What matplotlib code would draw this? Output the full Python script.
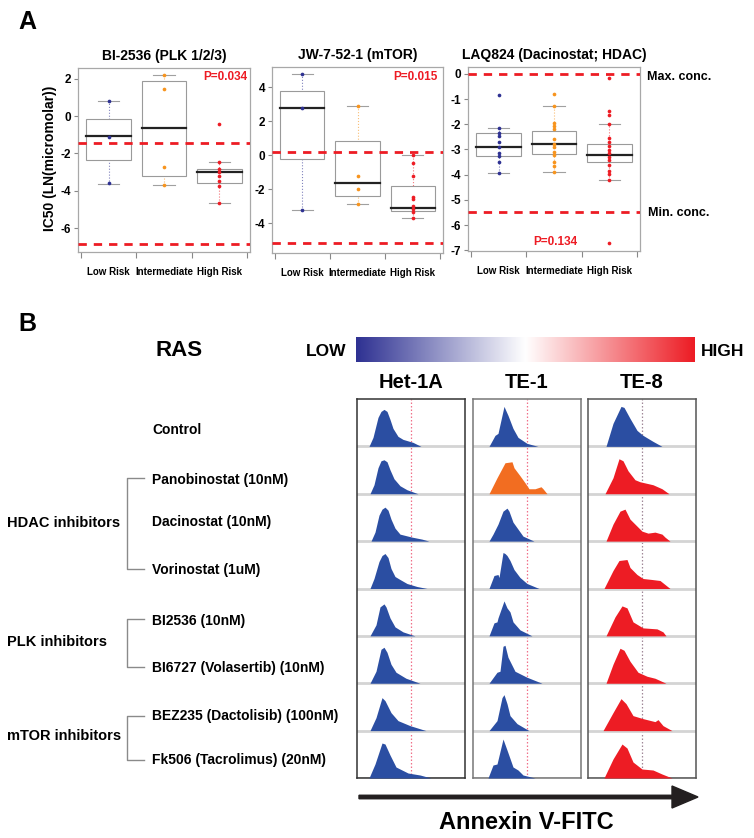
import numpy as np
import matplotlib.pyplot as plt
from matplotlib.colors import LinearSegmentedColormap
from matplotlib.patches import Rectangle, FancyArrow

plt.rcParams['font.family'] = ['Liberation Sans', 'DejaVu Sans']
plt.rcParams['font.weight'] = 'bold'

#%% Panel A data (IC50, LN micromolar)
risk_groups = ['Low Risk', 'Intermediate', 'High Risk']
risk_colors = ['#2e3192', '#f7941d', '#ed1c24']

plk_low = [0.8, -1.1, -3.6]
plk_int = [2.2, 1.45, -2.75, -3.7]
plk_high = [-0.45, -2.45, -2.85, -3.0, -3.2, -3.45, -3.75, -4.65]
# q1, median, q3, lower whisker, upper whisker
plk_box = [(-2.37, -1.08, -0.15, -3.62, 0.83),
           (-3.2, -0.63, 1.85, -3.7, 2.2),
           (-3.6, -2.98, -2.85, -4.67, -2.45)]
plk_ref = [-1.43, -6.83]

mtor_low = [4.75, 2.75, -3.25]
mtor_int = [2.9, -1.25, -2.0, -2.85]
mtor_high = [0.0, -0.45, -1.25, -2.45, -2.6, -3.0, -3.2, -3.35, -3.7]
mtor_box = [(-0.25, 2.78, 3.78, -3.25, 4.75),
            (-2.4, -1.62, 0.8, -2.85, 2.9),
            (-3.3, -3.1, -1.81, -3.7, 0.0)]
mtor_ref = [0.18, -5.18]

hdac_low = [-0.85, -2.15, -2.34, -2.47, -2.7, -2.91, -3.15, -3.28, -3.51, -3.93]
hdac_int = [-0.81, -1.28, -1.95, -2.08, -2.2, -2.6, -2.79, -2.92, -3.1, -3.22,
            -3.51, -3.67, -3.9]
hdac_high = [-0.18, -1.49, -1.62, -2.0, -2.53, -2.7, -2.86, -3.02, -3.15, -3.32,
             -3.42, -3.62, -3.84, -3.97, -4.23, -6.71]
hdac_box = [(-3.28, -2.91, -2.34, -3.93, -2.15),
            (-3.2, -2.79, -2.28, -3.9, -1.28),
            (-3.51, -3.21, -2.77, -4.23, -2.0)]
hdac_ref = [0.0, -5.5]

#%% Panel B data (Annexin V histograms, x intensity / y count, arbitrary units)
treatments = ['Control', 'Panobinostat (10nM)', 'Dacinostat (10nM)', 'Vorinostat (1uM)',
              'BI2536 (10nM)', 'BI6727 (Volasertib) (10nM)',
              'BEZ235 (Dactolisib) (100nM)', 'Fk506 (Tacrolimus) (20nM)']
cell_lines = ['Het-1A', 'TE-1', 'TE-8']

het1a_hist = [
    [(12, 0), (16, 9), (21, 29), (24, 35), (27, 37), (30, 35), (33, 27), (36, 18), (41, 10), (46, 7), (56, 4), (64, 0)],
    [(13, 0), (17, 9), (21, 26), (24, 33), (27, 34), (30, 32), (33, 24), (37, 15), (43, 8), (50, 4), (61, 0)],
    [(14, 0), (18, 9), (22, 26), (25, 32), (28, 34), (31, 31), (34, 22), (38, 13), (43, 7), (55, 4), (65, 2), (72, 0)],
    [(13, 0), (17, 10), (22, 27), (25, 33), (28, 35), (31, 31), (34, 20), (38, 12), (43, 9), (50, 5), (60, 2), (70, 0)],
    [(13, 0), (19, 11), (23, 29), (27, 32), (29, 29), (33, 18), (38, 9), (46, 4), (58, 0)],
    [(13, 0), (19, 12), (24, 34), (27, 36), (30, 31), (34, 19), (39, 11), (49, 5), (63, 0)],
    [(13, 0), (19, 13), (25, 33), (28, 30), (34, 18), (41, 10), (53, 5), (69, 0)],
    [(12, 0), (18, 14), (25, 35), (28, 34), (33, 23), (39, 11), (51, 5), (63, 3), (74, 0)],
]
te1_hist = [
    [(16, 0), (22, 11), (25, 13), (31, 40), (35, 31), (40, 18), (45, 9), (54, 3), (65, 0)],
    [(16, 0), (24, 16), (32, 31), (39, 32), (41, 26), (47, 18), (52, 11), (56, 5), (62, 5), (68, 7), (70, 5), (74, 0)],
    [(16, 0), (20, 7), (25, 17), (30, 30), (34, 33), (36, 30), (40, 19), (45, 12), (50, 5), (61, 0)],
    [(16, 0), (21, 13), (25, 14), (26, 11), (30, 36), (32, 35), (34, 33), (37, 28), (41, 19), (47, 11), (54, 5), (66, 0)],
    [(16, 0), (21, 13), (24, 14), (25, 18), (31, 35), (34, 28), (37, 24), (40, 14), (47, 6), (59, 0)],
    [(16, 0), (24, 11), (27, 12), (30, 37), (32, 38), (35, 26), (42, 12), (54, 6), (69, 0)],
    [(16, 0), (24, 10), (29, 33), (31, 36), (34, 27), (37, 15), (44, 7), (56, 0)],
    [(15, 0), (20, 13), (24, 14), (30, 39), (34, 28), (40, 11), (45, 8), (50, 3), (62, 0)],
]
te8_hist = [
    [(18, 0), (25, 23), (33, 40), (36, 39), (42, 28), (49, 16), (55, 11), (65, 5), (74, 0)],
    [(17, 0), (25, 16), (31, 35), (35, 33), (40, 23), (47, 14), (52, 12), (65, 9), (74, 5), (81, 0)],
    [(18, 0), (25, 17), (32, 30), (37, 32), (42, 22), (49, 15), (54, 10), (60, 8), (67, 9), (74, 7), (77, 4), (82, 0)],
    [(16, 0), (25, 18), (31, 28), (39, 29), (42, 21), (49, 14), (55, 10), (64, 9), (72, 8), (82, 0)],
    [(18, 0), (27, 19), (34, 30), (39, 28), (45, 14), (55, 8), (69, 7), (75, 4), (78, 0)],
    [(18, 0), (25, 19), (32, 35), (36, 33), (42, 22), (50, 11), (59, 7), (67, 5), (78, 0)],
    [(15, 0), (25, 18), (33, 32), (38, 27), (45, 15), (55, 12), (67, 9), (70, 11), (75, 5), (84, 0)],
    [(16, 0), (25, 19), (34, 34), (39, 30), (45, 16), (54, 9), (65, 8), (74, 4), (84, 0)],
]
blue, orange, red = '#2b4ea2', '#f26d21', '#ed1c24'
hist_colors = [[blue] * 8,
               [blue, orange] + [blue] * 6,
               [blue] + [red] * 7]

#%% Figure
W, H = 754, 838
fig = plt.figure(figsize=(W / 100, H / 100), dpi=100)


def rect(l, t, r, b):
    return [l / W, 1 - b / H, (r - l) / W, (b - t) / H]


def boxpanel(pos, groups, boxes, refs, ylim, yticks, title):
    ax = fig.add_axes(rect(*pos))
    for i, (pts, bx, c) in enumerate(zip(groups, boxes, risk_colors)):
        x = i + 1
        q1, med, q3, wlo, whi = bx
        ax.plot([x, x], [wlo, whi], color=c, ls=':', lw=0.8, alpha=0.6, zorder=1)
        ax.add_patch(Rectangle((x - 0.4, q1), 0.8, q3 - q1, fc='white', ec='#9a9a9a', lw=0.8, zorder=2))
        ax.plot([x - 0.4, x + 0.4], [med, med], color='#222222', lw=1.6, zorder=3)
        for w in (wlo, whi):
            ax.plot([x - 0.19, x + 0.19], [w, w], color='#a0a0a0', lw=0.8, zorder=3)
        ax.scatter([x] * len(pts), pts, s=7, color=c, lw=0, zorder=4)
    for r in refs:
        ax.axhline(r, color='#ed1c24', ls=(0, (3, 2.5)), lw=2, zorder=5)
    ax.set_xlim(0.45, 3.55)
    ax.set_ylim(*ylim)
    ax.set_yticks(yticks)
    ax.set_yticklabels([str(t) for t in yticks])
    ax.tick_params(axis='y', labelsize=8.5, length=3, color='#888888', pad=2)
    ax.set_xticks([0.5, 1.5, 2.5, 3.5])
    ax.set_xticklabels([])
    ax.set_xticks([1, 2, 3], minor=True)
    ax.set_xticklabels(risk_groups, minor=True, fontsize=7)
    ax.tick_params(axis='x', which='major', length=4, color='#888888')
    ax.tick_params(axis='x', which='minor', length=0, pad=11)
    for s in ax.spines.values():
        s.set_color('#a8a8a8')
        s.set_linewidth(0.9)
    ax.set_title(title, fontsize=10, fontweight='bold', pad=6)
    return ax


boxpanel((78, 68, 250, 252), [plk_low, plk_int, plk_high], plk_box, plk_ref,
         (-7.27, 2.57), [-6, -4, -2, 0, 2], 'BI-2536 (PLK 1/2/3)')
boxpanel((272, 67, 443, 253), [mtor_low, mtor_int, mtor_high], mtor_box, mtor_ref,
         (-5.76, 5.18), [-4, -2, 0, 2, 4], 'JW-7-52-1 (mTOR)')
boxpanel((468, 67, 640, 251), [hdac_low, hdac_int, hdac_high], hdac_box, hdac_ref,
         (-7.03, 0.27), [-7, -6, -5, -4, -3, -2, -1, 0], 'LAQ824 (Dacinostat; HDAC)')

# colour bar
cax = fig.add_axes(rect(356, 337, 695, 362))
cmap = LinearSegmentedColormap.from_list('ras', ['#2e3192', '#ffffff', '#ed1c24'])
cax.imshow(np.linspace(0, 1, 256)[None, :], aspect='auto', cmap=cmap)
cax.axis('off')

# histogram panels
panel_x = [(357, 465), (473, 581), (588, 696)]
frame_cols = ['#333333', '#777777', '#555555']
dot_cols = ['#f0708a', '#f0708a', '#a08898']
row_h = 47.4
for hists, cols, (l, r), fc, dc in zip([het1a_hist, te1_hist, te8_hist], hist_colors,
                                       panel_x, frame_cols, dot_cols):
    ax = fig.add_axes(rect(l, 399, r, 778))
    ax.set_xlim(0, 108)
    ax.set_ylim(0, 8)
    ax.axvline(54, color=dc, ls=(0, (1.2, 1.6)), lw=0.9, zorder=1)
    for k, (knots, c) in enumerate(zip(hists, cols)):
        base = 7 - k
        xs = [p[0] for p in knots]
        ys = [base + p[1] / row_h for p in knots]
        ax.axhline(base, color='#d4d4d4', lw=2, zorder=2)
        ax.fill_between(xs, base, ys, color=c, lw=0, zorder=3)
    ax.set_xticks([])
    ax.set_yticks([])
    for s in ax.spines.values():
        s.set_color(fc)
        s.set_linewidth(1.1)

#%% Overlay for text, brackets and arrow (pixel coordinates)
ov = fig.add_axes([0, 0, 1, 1])
ov.set_xlim(0, W)
ov.set_ylim(H, 0)
ov.axis('off')
ov.patch.set_alpha(0)

ov.text(27, 22, 'A', fontsize=18, ha='center', va='center')
ov.text(27, 324, 'B', fontsize=18, ha='center', va='center')

ov.text(50, 158, 'IC50 (LN(micromolar))', rotation=90, fontsize=10, ha='center', va='center')
ov.text(247, 77, 'P=0.034', color='#ed1c24', fontsize=8.5, ha='right', va='center')
ov.text(438, 77, 'P=0.015', color='#ed1c24', fontsize=8.5, ha='right', va='center')
ov.text(555, 242, 'P=0.134', color='#ed1c24', fontsize=8.5, ha='center', va='center')
ov.text(647, 77, 'Max. conc.', fontsize=9, ha='left', va='center')
ov.text(648, 213, 'Min. conc.', fontsize=9, ha='left', va='center')

ov.text(179, 350, 'RAS', fontsize=16, ha='center', va='center')
ov.text(326, 351, 'LOW', fontsize=12.5, ha='center', va='center')
ov.text(723, 351, 'HIGH', fontsize=12.5, ha='center', va='center')
for name, (l, r) in zip(cell_lines, panel_x):
    ov.text((l + r) / 2, 382, name, fontsize=14.5, ha='center', va='center')

label_y = [430, 480, 522, 570, 621, 668, 716, 760]
for name, y in zip(treatments, label_y):
    ov.text(152, y, name, fontsize=10, ha='left', va='center')

groups = [('HDAC inhibitors', 523, 478, 569),
          ('PLK inhibitors', 642, 619, 667),
          ('mTOR inhibitors', 736, 716, 760)]
for name, y, y0, y1 in groups:
    ov.text(7, y, name, fontsize=10.5, ha='left', va='center')
    ov.plot([144, 127, 127, 144], [y0, y0, y1, y1], color='#8a8a8a', lw=1)

ov.add_patch(FancyArrow(359, 797, 313, 0, width=3.5, head_width=22, head_length=26,
                        length_includes_head=False, color='#231f20'))
ov.text(526, 822, 'Annexin V-FITC', fontsize=17, ha='center', va='center')

fig.savefig('out.png', dpi=100)
